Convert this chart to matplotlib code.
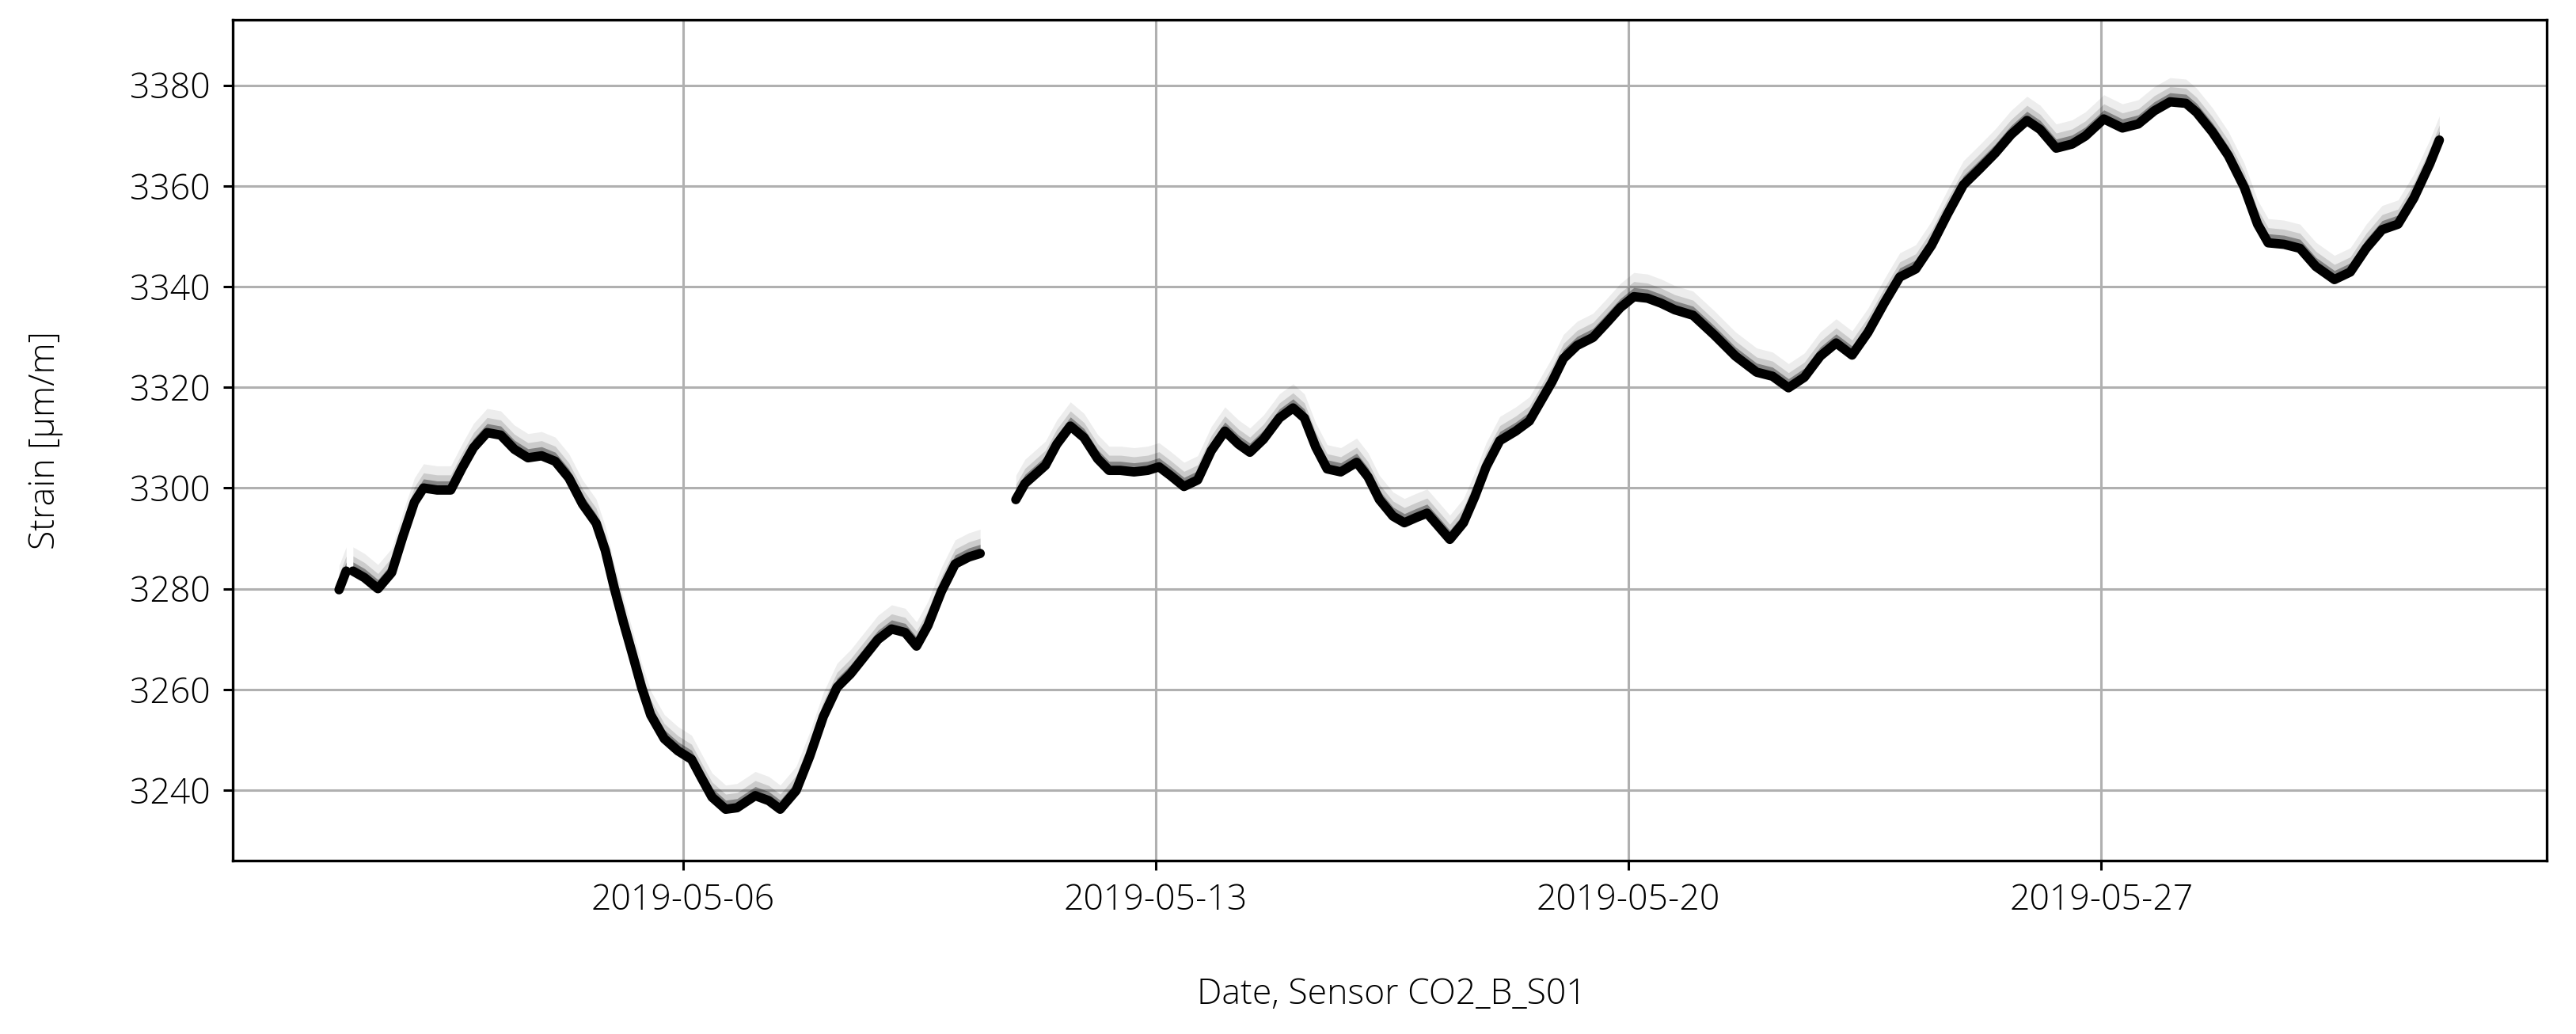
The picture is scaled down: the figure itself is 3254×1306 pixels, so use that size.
import numpy as np
import pandas as pd
import matplotlib
matplotlib.use("Agg")
import matplotlib.pyplot as plt
import matplotlib.dates as mdates

plt.rcParams["font.family"] = ["Open Sans", "DejaVu Sans"]

# strain readings, sensor CO2_B_S01 (days since 2019-04-30 00:00, µm/m)
# three recording pieces, separated by short outages
days_a = [0.904, 1.010]
strain_a = [3279.8, 3283.5]

days_b = [1.110, 1.280, 1.480, 1.683, 1.850, 2.020, 2.155, 2.356, 2.558, 2.727,
          2.895, 3.097, 3.299, 3.500, 3.702, 3.904, 4.106, 4.308, 4.510, 4.712,
          4.847, 4.981, 5.116, 5.251, 5.385, 5.520, 5.721, 5.923, 6.125, 6.260,
          6.428, 6.630, 6.798, 7.068, 7.269, 7.437, 7.673, 7.874, 8.076, 8.279,
          8.480, 8.682, 8.884, 9.087, 9.288, 9.456, 9.625, 9.826, 10.028, 10.231,
          10.399]
strain_b = [3283.5, 3282.2, 3280.0, 3283.2, 3290.4, 3297.2, 3300.0, 3299.6, 3299.6, 3304.0,
            3308.0, 3311.0, 3310.5, 3307.7, 3306.0, 3306.4, 3305.3, 3302.0, 3296.8, 3293.0,
            3287.6, 3280.1, 3273.3, 3266.9, 3260.4, 3254.9, 3250.2, 3247.8, 3246.1, 3242.7,
            3238.6, 3236.2, 3236.5, 3238.9, 3237.9, 3236.2, 3239.9, 3246.7, 3254.6, 3260.4,
            3263.1, 3266.5, 3269.9, 3272.0, 3271.3, 3268.6, 3272.7, 3279.5, 3284.9, 3286.3,
            3287.0]

days_c = [10.927, 11.062, 11.197, 11.365, 11.533, 11.735, 11.937, 12.139, 12.307, 12.475,
          12.677, 12.879, 13.047, 13.215, 13.417, 13.619, 13.821, 14.023, 14.225, 14.393,
          14.595, 14.830, 15.032, 15.200, 15.369, 15.537, 15.739, 15.974, 16.143, 16.311,
          16.513, 16.681, 16.849, 17.017, 17.186, 17.354, 17.556, 17.724, 17.892, 18.094,
          18.330, 18.532, 18.700, 18.868, 19.036, 19.238, 19.474, 19.676, 19.877, 20.079,
          20.281, 20.483, 20.685, 20.956, 21.270, 21.584, 21.898, 22.133, 22.369, 22.604,
          22.840, 23.075, 23.311, 23.546, 23.782, 24.017, 24.253, 24.488, 24.724, 24.959,
          25.195, 25.430, 25.666, 25.901, 26.097, 26.333, 26.568, 26.765, 27.039, 27.314,
          27.549, 27.785, 28.020, 28.256, 28.413, 28.648, 28.884, 29.119, 29.316, 29.473,
          29.708, 29.944, 30.179, 30.454, 30.689, 30.925, 31.160, 31.396, 31.631, 31.867,
          32.008]
strain_c = [3297.7, 3300.9, 3302.5, 3304.5, 3308.7, 3312.3, 3310.0, 3305.8, 3303.5, 3303.5,
            3303.2, 3303.5, 3304.2, 3302.5, 3300.3, 3301.6, 3307.4, 3311.3, 3308.7, 3307.1,
            3309.7, 3313.9, 3315.9, 3313.9, 3308.1, 3303.8, 3303.2, 3305.1, 3302.2, 3297.7,
            3294.4, 3293.1, 3294.1, 3295.0, 3292.4, 3289.8, 3293.1, 3298.3, 3304.2, 3309.4,
            3311.3, 3313.3, 3317.2, 3321.1, 3325.7, 3328.3, 3329.9, 3332.8, 3335.8, 3338.0,
            3337.7, 3336.7, 3335.4, 3334.3, 3330.4, 3326.2, 3323.0, 3322.2, 3319.9, 3322.0,
            3326.2, 3328.8, 3326.4, 3330.9, 3336.6, 3341.9, 3343.5, 3348.2, 3354.4, 3360.2,
            3363.3, 3366.5, 3370.2, 3373.0, 3371.2, 3367.5, 3368.3, 3369.9, 3373.3, 3371.5,
            3372.3, 3374.9, 3376.7, 3376.4, 3374.6, 3370.7, 3366.0, 3359.7, 3352.4, 3348.7,
            3348.4, 3347.6, 3344.0, 3341.4, 3342.9, 3347.6, 3351.3, 3352.4, 3357.6, 3364.4,
            3369.1]

y_ticks = [3240, 3260, 3280, 3300, 3320, 3340, 3360, 3380]
x_tick_days = ["2019-05-06", "2019-05-13", "2019-05-20", "2019-05-27"]

base = pd.Timestamp("2019-04-30")

fig = plt.figure(figsize=(32.55, 13.06), dpi=100)
ax = fig.add_axes([0.0903, 0.1677, 0.898, 0.8132])

for days, strain in [(days_a, strain_a), (days_b, strain_b), (days_c, strain_c)]:
    t = base + pd.to_timedelta(days, unit="D")
    s = np.array(strain)
    # scatter haze of the raw samples, mostly above the dense band
    ax.fill_between(t, s - 0.8, s + 4.8, color="black", alpha=0.07, linewidth=0)
    ax.fill_between(t, s - 0.6, s + 3.0, color="black", alpha=0.14, linewidth=0)
    ax.fill_between(t, s - 0.4, s + 1.8, color="black", alpha=0.35, linewidth=0)
    ax.plot(t, s, color="black", linewidth=8.5, solid_capstyle="round",
            solid_joinstyle="round")

ax.set_xlim(base + pd.Timedelta(days=-0.671), base + pd.Timedelta(days=33.597))
ax.set_ylim(3226, 3393)
ax.set_yticks(y_ticks)
ax.set_xticks(pd.to_datetime(x_tick_days))
ax.xaxis.set_major_formatter(mdates.DateFormatter("%Y-%m-%d"))

ax.grid(True, color="#b0b0b0", linewidth=2.2)
ax.set_axisbelow(True)
for sp in ax.spines.values():
    sp.set_linewidth(2.4)
ax.tick_params(axis="both", length=8.5, width=2.2, labelsize=32, pad=12)
for lab in ax.get_xticklabels() + ax.get_yticklabels():
    lab.set_fontweight("light")

fig.text(0.0178, 0.574, "Strain [µm/m]", rotation=90, ha="center", va="center",
         fontsize=32, fontweight="light")
fig.text(0.54, 0.038, "Date, Sensor CO2_B_S01", ha="center", va="center",
         fontsize=32, fontweight="light")

fig.savefig("out.png", dpi=100)
